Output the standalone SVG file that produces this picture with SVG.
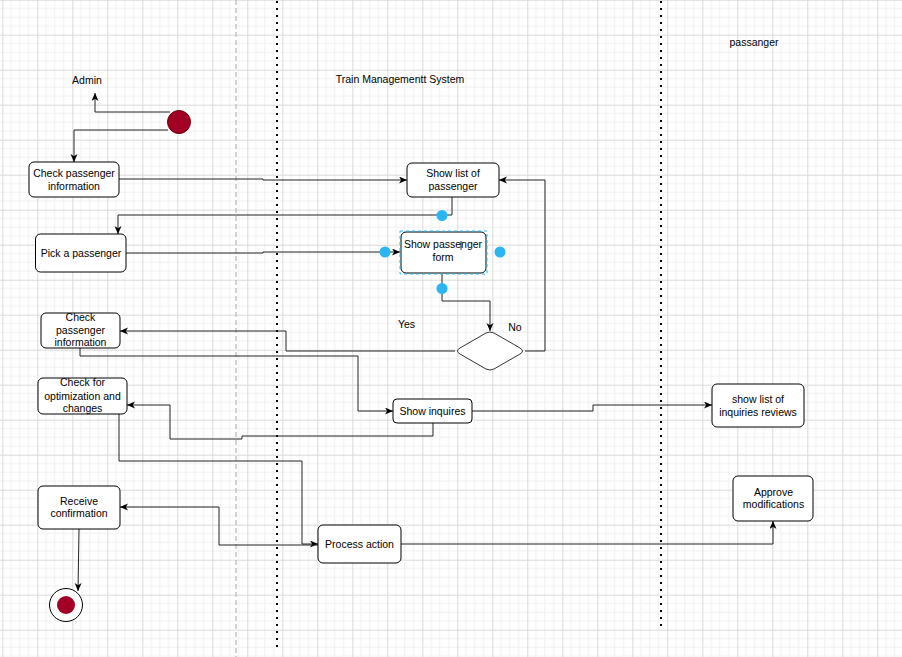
<svg xmlns="http://www.w3.org/2000/svg" width="902" height="657" viewBox="0 0 902 657">
  <defs>
    <pattern id="grid" patternUnits="userSpaceOnUse" x="2.3" y="-0.3" width="35" height="35">
      <path d="M8.75 0V35M17.5 0V35M26.25 0V35M0 8.75H35M0 17.5H35M0 26.25H35" stroke="#f0f0f0" stroke-width="1" fill="none"/>
      <path d="M0.5 0V35M0 0.5H35" stroke="#dadada" stroke-width="1" fill="none"/>
    </pattern>
    <marker id="arrow" markerUnits="userSpaceOnUse" markerWidth="9" markerHeight="8" refX="8" refY="3.5" orient="auto">
      <path d="M0,0 L8,3.5 L0,7 L2.2,3.5 Z" fill="#000"/>
    </marker>
  </defs>
  <style>
    text { font-family: "Liberation Sans", Arial, sans-serif; font-size: 10.5px; fill: #000; text-anchor: middle; }
    .box { fill: #fff; stroke: #000; stroke-width: 1; }
    .edge { fill: none; stroke: #222; stroke-width: 1; }
    .edge-arrow { marker-end: url(#arrow); }
    .handle { fill: #29b6f2; }
    .lane-dash { stroke: #c4c4c4; stroke-width: 1.5; stroke-dasharray: 5 3; fill: none; }
    .lane-dot { stroke: #000; stroke-width: 2; stroke-dasharray: 2 5; fill: none; }
  </style>

  <!-- background grid -->
  <rect x="0" y="0" width="902" height="657" fill="#fff"/>
  <rect x="0" y="0" width="902" height="657" fill="url(#grid)"/>

  <!-- swimlane separators -->
  <g id="lanes">
    <line class="lane-dash" x1="236" y1="0" x2="236" y2="657"/>
    <line class="lane-dot" x1="277" y1="1" x2="277" y2="652"/>
    <line class="lane-dot" x1="661" y1="1" x2="661" y2="630"/>
  </g>

  <!-- lane titles -->
  <g id="titles">
    <text x="87" y="84">Admin</text>
    <text x="400" y="83">Train Managementt System</text>
    <text x="754" y="46">passanger</text>
  </g>

  <!-- connectors -->
  <g id="connectors">
    <path class="edge edge-arrow" d="M170,112 L95,112 L95,93"/>
    <path class="edge edge-arrow" d="M168,130 L74,130 L74,162"/>
    <path class="edge edge-arrow" d="M119,179 L263,179 L263,180 L407,180"/>
    <path class="edge edge-arrow" d="M452,197 L452,215 L118,215 L118,234"/>
    <path class="edge edge-arrow" d="M126,253 L263,253 L263,252 L400,252"/>
    <path class="edge edge-arrow" d="M442,274 L442,301 L490,301 L490,331"/>
    <path class="edge edge-arrow" d="M525,351 L545,351 L545,180 L499,180"/>
    <path class="edge edge-arrow" d="M455,351 L286,351 L286,331 L120,331"/>
    <path class="edge edge-arrow" d="M80,348 L80,356 L358,356 L358,411 L393,411"/>
    <path class="edge edge-arrow" d="M433,423 L433,436 L242,436 L242,439 L170,439 L170,405 L127,405"/>
    <path class="edge edge-arrow" d="M119,414 L119,461 L302,461 L302,544 L318,544"/>
    <path class="edge edge-arrow" d="M318,545 L219,545 L219,507 L120,507"/>
    <path class="edge edge-arrow" d="M401,544 L773,544 L773,521"/>
    <path class="edge edge-arrow" d="M472,411 L593,411 L593,405 L712,405"/>
    <path class="edge edge-arrow" d="M79,529 L78,591"/>
  </g>

  <!-- initial state -->
  <g id="start">
    <circle cx="179" cy="122" r="11.5" fill="#a20025" stroke="#6f0000" stroke-width="1"/>
  </g>

  <g id="check-passenger-info">
    <rect class="box" x="29" y="162" width="90" height="35" rx="5"/>
    <text x="74" y="177">Check passenger</text>
    <text x="74" y="189.5">information</text>
  </g>

  <g id="show-list-passenger">
    <rect class="box" x="407" y="163" width="92" height="34" rx="5"/>
    <text x="453" y="177">Show list of</text>
    <text x="453" y="189.5">passenger</text>
  </g>

  <g id="pick-passenger">
    <rect class="box" x="35.5" y="234" width="90.5" height="38" rx="5"/>
    <text x="81" y="257">Pick a passenger</text>
  </g>

  <g id="show-passenger-form">
    <rect class="box" x="401" y="232" width="85" height="41" rx="5"/>
    <text x="443" y="248">Show passenger</text>
    <text x="443" y="260.5">form</text>
    <line x1="461" y1="241" x2="461" y2="250" stroke="#000" stroke-width="0.8"/>
    <rect x="400" y="231" width="87" height="43" fill="none" stroke="#29b6f2" stroke-width="1" stroke-dasharray="3 3"/>
    <circle class="handle" cx="442" cy="215.5" r="5.5"/>
    <circle class="handle" cx="385" cy="252" r="5.5"/>
    <circle class="handle" cx="500" cy="252" r="5.5"/>
    <circle class="handle" cx="442" cy="288.5" r="5.5"/>
  </g>

  <g id="decision">
    <path d="M460,348 L486,333 Q490,331 494,333 L520,348 Q525,351 520,354 L494,369 Q490,371 486,369 L460,354 Q455,351 460,348 Z" fill="#fff" stroke="#333" stroke-width="1"/>
    <text x="406.5" y="328">Yes</text>
    <text x="515" y="331">No</text>
  </g>

  <g id="check-passenger-info-2">
    <rect class="box" x="41" y="313" width="79" height="35" rx="5"/>
    <text x="80.5" y="321">Check</text>
    <text x="80.5" y="333.5">passenger</text>
    <text x="80.5" y="346">information</text>
  </g>

  <g id="check-optimization">
    <rect class="box" x="38" y="378" width="89" height="36" rx="5"/>
    <text x="82.5" y="386">Check for</text>
    <text x="82.5" y="399.5">optimization and</text>
    <text x="82.5" y="412">changes</text>
  </g>

  <g id="show-inquires">
    <rect class="box" x="393" y="399" width="79" height="24" rx="4"/>
    <text x="432.5" y="414.5">Show inquires</text>
  </g>

  <g id="show-inquiries-reviews">
    <rect class="box" x="712" y="384" width="92" height="43" rx="5"/>
    <text x="758" y="403">show list of</text>
    <text x="758" y="415.5">inquiries reviews</text>
  </g>

  <g id="approve-modifications">
    <rect class="box" x="733" y="476" width="80" height="45" rx="5"/>
    <text x="773.5" y="496">Approve</text>
    <text x="773.5" y="508">modifications</text>
  </g>

  <g id="receive-confirmation">
    <rect class="box" x="38" y="486" width="82" height="43" rx="5"/>
    <text x="79" y="504.5">Receive</text>
    <text x="79" y="517">confirmation</text>
  </g>

  <g id="process-action">
    <rect class="box" x="318" y="525" width="83" height="38" rx="5"/>
    <text x="359.5" y="547.5">Process action</text>
  </g>

  <!-- final state -->
  <g id="end">
    <circle cx="66" cy="605" r="16.5" fill="#fff" stroke="#000" stroke-width="1"/>
    <circle cx="66" cy="605" r="9" fill="#a20025"/>
  </g>
</svg>
